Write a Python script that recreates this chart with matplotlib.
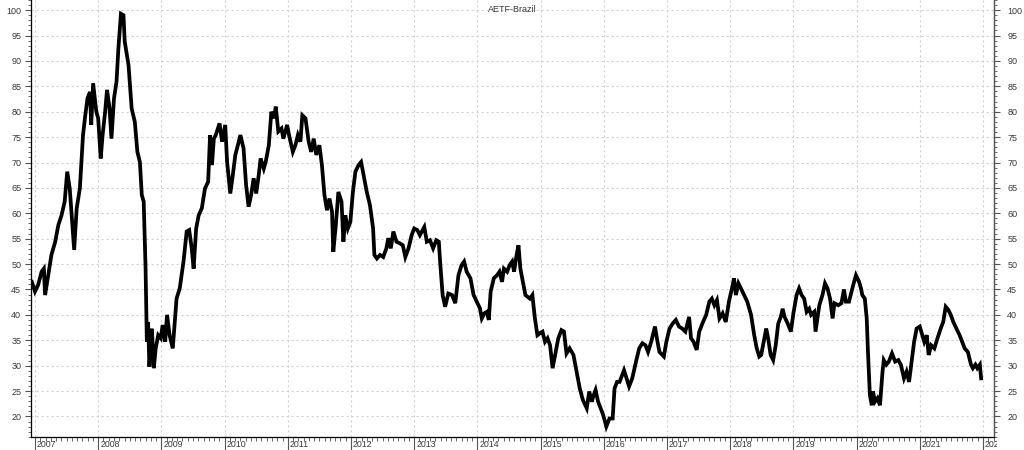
import numpy as np
import matplotlib
matplotlib.use('Agg')
import matplotlib.pyplot as plt
from matplotlib.ticker import MultipleLocator, FixedLocator
from matplotlib.transforms import Bbox, TransformedBbox, blended_transform_factory, offset_copy

# weekly-ish closes, split by period (decimal years)
t_2007_2009 = [2006.95, 2007.00, 2007.05, 2007.105, 2007.14, 2007.16, 2007.21, 2007.26, 2007.32, 2007.37,
               2007.42, 2007.47, 2007.51, 2007.55, 2007.62, 2007.66, 2007.71, 2007.76, 2007.79, 2007.83,
               2007.87, 2007.89, 2007.92, 2007.97, 2008.00, 2008.04, 2008.07, 2008.11, 2008.14, 2008.18,
               2008.21, 2008.25, 2008.29, 2008.32, 2008.36, 2008.40, 2008.42, 2008.48, 2008.53, 2008.58,
               2008.62, 2008.66, 2008.69, 2008.72, 2008.75, 2008.77, 2008.79, 2008.81, 2008.85, 2008.88,
               2008.91, 2008.95, 2008.99, 2009.02, 2009.06, 2009.09, 2009.13, 2009.18, 2009.24, 2009.29,
               2009.35, 2009.40, 2009.44, 2009.48, 2009.51, 2009.55, 2009.59]
v_2007_2009 = [46.5, 44.6, 45.9, 48.5, 49.1, 43.9, 47.8, 51.8, 54.4, 57.7,
               59.6, 62.3, 68.2, 64.9, 52.8, 61.0, 64.9, 75.4, 78.7, 82.6,
               83.9, 77.4, 85.6, 80.0, 78.7, 70.8, 75.4, 80.0, 84.3, 80.6,
               74.7, 82.6, 85.9, 92.5, 99.3, 99.0, 93.8, 89.2, 80.6, 78.0,
               72.1, 70.1, 63.6, 62.3, 49.1, 34.7, 38.6, 29.8, 37.3, 29.5,
               33.4, 36.0, 35.4, 38.0, 34.7, 40.0, 36.0, 33.4, 43.2, 45.2,
               50.5, 56.4, 56.7, 53.1, 49.1, 57.0, 59.6]

t_2009_2012 = [2009.64, 2009.69, 2009.74, 2009.77, 2009.80, 2009.83, 2009.86, 2009.92, 2009.96, 2010.01,
               2010.04, 2010.09, 2010.13, 2010.17, 2010.21, 2010.25, 2010.30, 2010.34, 2010.38, 2010.42,
               2010.46, 2010.50, 2010.54, 2010.57, 2010.62, 2010.65, 2010.70, 2010.74, 2010.78, 2010.81,
               2010.85, 2010.90, 2010.93, 2010.99, 2011.02, 2011.08, 2011.12, 2011.16, 2011.20, 2011.23,
               2011.28, 2011.33, 2011.37, 2011.41, 2011.45, 2011.50, 2011.54, 2011.58, 2011.62, 2011.66,
               2011.70, 2011.72, 2011.76, 2011.80, 2011.85, 2011.88, 2011.91, 2011.95, 2011.99, 2012.03,
               2012.07, 2012.12, 2012.16]
v_2009_2012 = [61.0, 64.9, 66.2, 75.4, 69.5, 74.7, 75.4, 77.7, 74.1, 77.4,
               70.1, 63.9, 67.5, 71.5, 73.4, 75.4, 72.8, 65.6, 61.3, 63.6,
               66.9, 63.9, 67.5, 70.8, 68.8, 70.1, 73.4, 80.0, 78.7, 81.0,
               76.1, 76.7, 74.7, 77.4, 75.4, 72.1, 73.4, 75.4, 74.1, 79.3,
               78.7, 74.1, 72.1, 74.7, 71.5, 73.4, 69.5, 63.6, 60.6, 62.9,
               60.3, 52.4, 57.7, 64.2, 62.3, 54.4, 59.6, 57.0, 58.3, 64.2,
               68.2, 69.5, 70.1]

t_2012_2014 = [2012.20, 2012.25, 2012.30, 2012.35, 2012.37, 2012.41, 2012.46, 2012.51, 2012.56, 2012.59,
               2012.63, 2012.67, 2012.72, 2012.77, 2012.82, 2012.86, 2012.91, 2012.96, 2013.00, 2013.05,
               2013.09, 2013.16, 2013.20, 2013.25, 2013.30, 2013.35, 2013.39, 2013.41, 2013.45, 2013.49,
               2013.54, 2013.60, 2013.65, 2013.70, 2013.75, 2013.79, 2013.83, 2013.89, 2013.94, 2013.99,
               2014.04, 2014.07, 2014.11, 2014.15, 2014.18, 2014.21, 2014.26, 2014.31, 2014.35, 2014.39,
               2014.42, 2014.47, 2014.51, 2014.55, 2014.58, 2014.62, 2014.65, 2014.68, 2014.72, 2014.76]
v_2012_2014 = [67.5, 64.2, 61.6, 57.0, 51.8, 51.1, 51.8, 51.4, 53.1, 55.1,
               53.1, 56.4, 54.4, 54.1, 53.7, 51.4, 53.1, 55.7, 57.0, 56.7,
               55.7, 57.3, 54.4, 54.7, 53.1, 54.7, 54.4, 50.5, 43.9, 41.6,
               44.2, 43.9, 42.3, 47.8, 49.8, 50.5, 48.5, 47.2, 43.9, 42.6,
               41.3, 39.3, 40.3, 40.6, 39.0, 44.6, 47.2, 47.8, 48.5, 46.5,
               49.1, 48.5, 49.8, 50.5, 48.5, 51.8, 53.7, 49.1, 46.5, 43.9]

t_2014_2017 = [2014.83, 2014.87, 2014.91, 2014.95, 2014.99, 2015.03, 2015.07, 2015.11, 2015.15, 2015.19,
               2015.23, 2015.28, 2015.33, 2015.37, 2015.41, 2015.46, 2015.52, 2015.57, 2015.62, 2015.67,
               2015.73, 2015.77, 2015.81, 2015.84, 2015.87, 2015.91, 2015.95, 2015.99, 2016.04, 2016.09,
               2016.14, 2016.17, 2016.21, 2016.25, 2016.32, 2016.36, 2016.40, 2016.45, 2016.51, 2016.56,
               2016.61, 2016.66, 2016.70, 2016.75, 2016.81, 2016.84, 2016.88, 2016.95, 2016.99, 2017.04,
               2017.09, 2017.14, 2017.19, 2017.24, 2017.29, 2017.35]
v_2014_2017 = [43.2, 43.9, 39.3, 36.0, 36.4, 36.7, 34.7, 35.4, 34.0, 29.5,
               32.1, 35.4, 37.0, 36.7, 32.4, 33.4, 32.1, 28.8, 25.5, 23.2,
               21.6, 24.9, 22.9, 24.2, 25.2, 22.9, 21.6, 20.3, 18.0, 19.6,
               19.6, 25.5, 26.8, 26.8, 29.1, 27.5, 25.9, 27.5, 30.8, 33.4,
               34.4, 34.0, 32.7, 34.7, 37.7, 35.4, 32.7, 31.8, 34.7, 37.3,
               38.3, 39.0, 37.7, 37.3, 36.7, 39.6]

t_2017_2019 = [2017.38, 2017.42, 2017.47, 2017.51, 2017.56, 2017.62, 2017.67, 2017.71, 2017.75, 2017.79,
               2017.83, 2017.88, 2017.93, 2017.98, 2018.04, 2018.06, 2018.09, 2018.13, 2018.17, 2018.22,
               2018.27, 2018.33, 2018.38, 2018.42, 2018.46, 2018.49, 2018.54, 2018.57, 2018.60, 2018.64,
               2018.68, 2018.72, 2018.76, 2018.80, 2018.83, 2018.86, 2018.91, 2018.96, 2019.00, 2019.05,
               2019.09, 2019.13, 2019.17, 2019.21, 2019.25, 2019.28, 2019.33, 2019.35, 2019.41, 2019.46,
               2019.50, 2019.54, 2019.58, 2019.62, 2019.65, 2019.71, 2019.76, 2019.80, 2019.83, 2019.88,
               2019.92, 2019.96, 2019.99]
v_2017_2019 = [35.4, 34.7, 33.1, 36.7, 38.3, 40.0, 42.6, 43.2, 41.9, 42.9,
               39.3, 40.3, 38.6, 42.6, 45.9, 47.2, 43.9, 46.2, 45.2, 43.9,
               42.6, 40.0, 36.0, 33.4, 31.8, 32.1, 35.4, 37.3, 35.4, 32.1,
               31.1, 34.0, 38.3, 39.6, 41.2, 39.6, 38.3, 36.7, 40.3, 43.9,
               45.2, 43.9, 43.2, 40.6, 41.2, 40.0, 40.6, 36.7, 41.9, 43.9,
               46.2, 45.2, 43.2, 39.3, 42.3, 41.9, 42.3, 45.0, 42.6, 42.6,
               44.6, 46.5, 47.8]

t_2020_2021 = [2020.04, 2020.07, 2020.09, 2020.13, 2020.16, 2020.18, 2020.21, 2020.24, 2020.26, 2020.29,
               2020.33, 2020.37, 2020.41, 2020.43, 2020.47, 2020.51, 2020.56, 2020.61, 2020.66, 2020.70,
               2020.75, 2020.79, 2020.83, 2020.87, 2020.91, 2020.95, 2021.00, 2021.04, 2021.07, 2021.11,
               2021.14, 2021.18, 2021.23, 2021.28, 2021.33, 2021.37, 2021.41, 2021.45, 2021.49, 2021.53,
               2021.58, 2021.63, 2021.67, 2021.71, 2021.76, 2021.81, 2021.84, 2021.88, 2021.91, 2021.95,
               2021.97]
v_2020_2021 = [46.5, 45.2, 43.9, 43.2, 39.3, 32.7, 24.2, 22.2, 24.9, 22.9,
               23.6, 22.2, 28.8, 31.1, 30.2, 30.8, 32.4, 30.8, 31.1, 30.2,
               27.5, 28.8, 26.8, 30.8, 34.7, 37.3, 37.7, 36.0, 34.7, 36.0,
               32.1, 34.0, 33.4, 35.4, 37.3, 38.6, 41.6, 41.0, 40.0, 38.6,
               37.3, 36.0, 34.7, 33.4, 32.7, 30.2, 29.5, 30.2, 29.5, 30.2,
               27.5]

years = list(range(2007, 2023))
y_ticks = list(range(20, 101, 5))
title = 'AETF-Brazil'

t = np.array(t_2007_2009 + t_2009_2012 + t_2012_2014 + t_2014_2017 + t_2017_2019 + t_2020_2021)
v = np.array(v_2007_2009 + v_2009_2012 + v_2012_2014 + v_2014_2017 + v_2017_2019 + v_2020_2021)

plt.rcParams['font.family'] = ['Liberation Sans', 'DejaVu Sans']
txt_col = '#3a3a3a'
tick_col = '#555555'
grid_col = '#d2d2d2'

fig = plt.figure(figsize=(10.24, 4.5), dpi=100)
ax = fig.add_axes([31 / 1024, 13 / 450, 963 / 1024, 437 / 450])

ax.plot(t, v, color='black', lw=2.7, solid_joinstyle='miter', zorder=3)

xlim = (2006.937, 2022.174)
ylim = (15.95, 102)
ax.set_xlim(*xlim)
ax.set_ylim(*ylim)

# dashed grid at years and every 5
for yr in years:
    ax.axvline(yr, color=grid_col, lw=0.8, ls=(0, (2, 2.5)), zorder=0)
for yv in y_ticks:
    ax.axhline(yv, color=grid_col, lw=0.8, ls=(0, (2, 2.5)), zorder=0)

ax.spines['top'].set_visible(False)
for s in ['left', 'right', 'bottom']:
    ax.spines[s].set_color(tick_col)
    ax.spines[s].set_linewidth(0.9)

# left y axis
ax.yaxis.set_major_locator(FixedLocator(y_ticks))
ax.yaxis.set_minor_locator(MultipleLocator(1))
ax.tick_params(axis='y', which='both', direction='out', colors=tick_col, labelcolor=txt_col, labelsize=6.5)
ax.tick_params(axis='y', which='major', length=4, width=0.8, pad=3)
ax.tick_params(axis='y', which='minor', length=2, width=0.6)

# right y axis (labels sit a bit further from the spine)
ax2 = ax.twinx()
ax2.set_ylim(*ylim)
ax2.spines['top'].set_visible(False)
ax2.spines['right'].set_color(tick_col)
ax2.spines['right'].set_linewidth(0.9)
ax2.yaxis.set_major_locator(FixedLocator(y_ticks))
ax2.yaxis.set_minor_locator(MultipleLocator(1))
ax2.tick_params(axis='y', which='both', direction='out', colors=tick_col, labelcolor=txt_col, labelsize=6.5)
ax2.tick_params(axis='y', which='major', length=4, width=0.8, pad=5.5)
ax2.tick_params(axis='y', which='minor', length=2, width=0.6)

# x axis: yearly long ticks, monthly minor ticks, labels right of tick
ax.xaxis.set_major_locator(FixedLocator(years))
ax.xaxis.set_minor_locator(MultipleLocator(1 / 12))
ax.tick_params(axis='x', which='major', length=11, width=0.8, direction='out', colors=tick_col,
               labelbottom=False)
ax.tick_params(axis='x', which='minor', length=3, width=0.6, direction='out', colors=tick_col)

trans = offset_copy(blended_transform_factory(ax.transData, ax.transAxes), fig=fig, x=2, y=-3, units='dots')
clip = TransformedBbox(Bbox([[0, 0], [997 / 1024, 1]]), fig.transFigure)
for yr in years:
    tx = ax.text(yr, 0, str(yr), transform=trans, ha='left', va='top', fontsize=6.3, color=txt_col)
    tx.set_clip_on(True)
    tx.set_clip_box(clip)

fig.text(0.5, 0.988, title, ha='center', va='top', fontsize=6.5, color=txt_col)

fig.savefig('out.png', dpi=100)
